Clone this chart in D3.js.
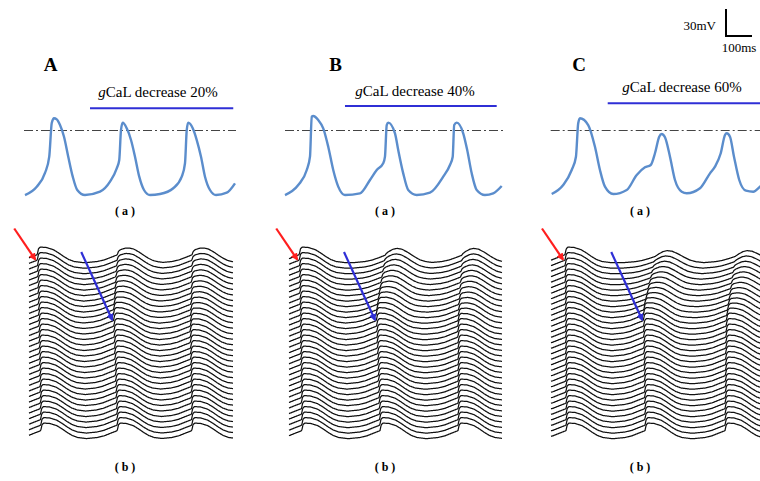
<!DOCTYPE html>
<html>
<head>
<meta charset="utf-8">
<script src="https://cdn.jsdelivr.net/npm/d3@7"></script>
<style>
  body { margin: 0; background: #fff; }
  svg { display: block; }
  text { font-family: "Liberation Serif", "Times New Roman", serif; }
</style>
</head>
<body>
<div id="chart"></div>
<script>
// ---- data ----
const panelNames = ['A', 'B', 'C']
const decreasePct = [20, 40, 60]
// gCaL block starts (ms, on the (a) time axis)
const blockStart = [260, 240, 224]

// (a) single-cell action potentials: [time ms, mV]
const apA = [[0,-71.7],[47,-62.4],[80,-47.2],[97,-29.1],[107,8.3],[116,13.6],[127,12.4],[140,6.1],[156,-6.9],[173,-29.1],[191,-51.3],[209,-66.1],[240,-71.7],[300,-68.0],[340,-56.9],[367,-42.0],[377,-32.8],[384,0.6],[391,8.7],[407,2.4],[424,-10.6],[440,-29.1],[457,-51.3],[476,-66.1],[500,-71.7],[540,-70.6],[593,-64.2],[627,-51.3],[640,-36.4],[647,0.6],[653,8.7],[671,2.4],[687,-10.6],[704,-29.1],[720,-51.3],[740,-66.1],[764,-71.7],[807,-69.1],[840,-58.7]]
const apB = [[0,-71.7],[53,-60.6],[87,-43.9],[100,-29.1],[107,15.3],[113,16.1],[133,11.7],[153,2.4],[173,-18.0],[193,-43.9],[213,-62.4],[240,-71.7],[300,-69.8],[340,-55.0],[367,-43.9],[393,-36.4],[400,-29.1],[407,6.1],[413,8.7],[440,-3.1],[453,-21.7],[473,-47.6],[493,-66.1],[527,-71.7],[580,-69.1],[633,-51.3],[660,-38.3],[671,-29.1],[677,6.1],[687,8.7],[713,-3.1],[729,-21.7],[747,-47.6],[767,-66.1],[800,-71.7],[833,-69.8],[867,-61.7]]
const apC = [[0,-70.6],[46,-60.6],[80,-43.9],[97,-29.1],[106,8.0],[113,13.6],[146,6.1],[173,-18.0],[193,-43.9],[213,-62.4],[246,-70.6],[300,-66.1],[340,-49.4],[373,-40.9],[396,-38.3],[413,-25.3],[430,-6.9],[440,-3.9],[453,-7.6],[473,-29.1],[493,-55.0],[520,-68.0],[540,-69.8],[593,-64.2],[633,-47.6],[653,-40.2],[676,-25.3],[693,-5.0],[700,-3.1],[713,-6.9],[729,-29.1],[750,-55.0],[777,-66.9],[806,-68.0],[833,-62.4],[853,-57.0]]

// (b) beat shapes seen in the stacked traces: [ms from upstroke, mV]
const sharpBeat = [[-120,-70],[-80,-64.5],[-52,-55.1],[-24,-39.6],[-4,-29],[0,-26],[5,6],[12,15],[36,13],[64,1],[86,-17.6],[106,-36.9],[126,-53.4],[148,-64.5],[180,-70]]
const roundBeat = [[-120,-70],[-80,-64.5],[-52,-56.2],[-24,-42.4],[0,-28.6],[16,-10],[32,5],[48,12],[68,8],[92,-10],[116,-33],[140,-53.4],[164,-64.5],[192,-70]]

// (b) upstroke time (ms) of each beat in each of the 33 rows, top to bottom
const onsetA1 = [33,33,34,34,35,35,36,36,37,37,38,38,39,39,40,40,40,41,41,42,42,43,43,43,44,44,45,45,45,46,46,47,47]
const onsetA2 = [353,352,350,349,347,346,344,343,341,340,338,337,338,339,339,340,341,342,342,343,344,345,345,346,347,348,348,349,350,351,351,352,353]
const onsetA3 = [652,651,651,650,650,649,649,648,648,647,647,646,646,645,644,645,645,646,646,646,647,647,647,648,648,649,649,649,650,650,650,651,651]
const onsetB1 = [41,41,42,42,42,43,43,43,44,44,44,45,45,45,46,46,46,46,47,47,47,48,48,48,49,49,49,49,50,50,50,51,51]
const onsetB2 = [384,381,378,374,371,367,364,360,357,354,351,348,349,350,351,352,352,353,354,355,355,356,357,357,358,359,360,360,361,362,362,363,364]
const onsetB3 = [691,690,689,687,686,685,683,682,681,679,678,677,676,675,675,675,676,676,676,676,676,676,676,676,676,676,676,676,676,676,676,676,676]
const onsetC1 = [56,56,56,56,56,56,57,57,57,57,57,57,57,58,58,58,58,58,58,58,59,59,59,59,59,59,59,60,60,60,60,60,60]
const onsetC2 = [416,411,407,402,398,393,388,384,379,374,371,369,369,370,370,370,371,371,371,372,372,372,373,373,373,374,374,374,375,375,375,376,376]
const onsetC3 = [736,733,730,727,724,721,718,715,712,709,706,703,701,700,700,699,699,699,698,698,698,698,697,697,697,697,697,696,696,696,696,696,696]
// row where each beat starts (red / blue arrows); rows above it show a rounder wave
const originRow = [[0, 11, 14], [0, 11, 13], [0, 11, 12]]
const roundness = [0.5, 0.85, 1]
const roundAmp = [1, 0.95, 0.8]

// scale bar
const scaleBarMv = 30
const scaleBarMs = 100

// ---- layout ----
const width = 760, height = 481
const layout = [
  { letterX: 50.5, letterY: 71, textX: 158, textY: 97, barY: 108.3, barEnd: 833,
    ax: [25, 235], aDom: 840, dash: [-4, 844], bx: [29, 233], bDom: 816, labelX: 125 },
  { letterX: 335.5, letterY: 71, textX: 415, textY: 96, barY: 106, barEnd: 847,
    ax: [285, 501.7], aDom: 867, dash: [0, 873], bx: [289, 502], bDom: 852, labelX: 385 },
  { letterX: 579, letterY: 71, textX: 682, textY: 92, barY: 103.3, barEnd: 880,
    ax: [551.7, 765], aDom: 853, dash: [-4, 840], bx: [551, 765], bDom: 856, labelX: 640 }
]
const aps = [apA, apB, apC]
const onsets = [[onsetA1, onsetA2, onsetA3], [onsetB1, onsetB2, onsetB3], [onsetC1, onsetC2, onsetC3]]
const rowCount = onsetA1.length

const svg = d3.select('#chart').append('svg')
  .attr('width', width).attr('height', height)

const defs = svg.append('defs')
;[['red', '#ff1e1e'], ['blue', '#2f2fd6']].forEach(([id, c]) => {
  defs.append('marker')
    .attr('id', 'head-' + id)
    .attr('viewBox', '0 0 10 10')
    .attr('refX', 8).attr('refY', 5)
    .attr('markerWidth', 3.4).attr('markerHeight', 3.4)
    .attr('orient', 'auto')
    .append('path').attr('d', 'M0,0 L10,5 L0,10 z').attr('fill', c)
})
defs.append('clipPath').attr('id', 'page')
  .append('rect').attr('width', width).attr('height', height)

// (a) voltage scale shared by the three panels
const yA = d3.scaleLinear().domain([0, 80]).range([130.5, 130.5 - 72])
// (b) per-row voltage scale (height above the row baseline)
const yB = d3.scaleLinear().domain([-70, 15]).range([0, -15.4])
const rowY = d3.scaleLinear().domain([0, rowCount - 1]).range([262.5, 438.5])

const sharpScale = d3.scaleLinear().domain(sharpBeat.map(d => d[0])).range(sharpBeat.map(d => d[1])).clamp(true)
const roundScale = d3.scaleLinear().domain(roundBeat.map(d => d[0])).range(roundBeat.map(d => d[1])).clamp(true)

layout.forEach((L, p) => {
  const g = svg.append('g').attr('clip-path', 'url(#page)')

  // panel letter
  g.append('text')
    .attr('x', L.letterX).attr('y', L.letterY)
    .attr('text-anchor', 'middle')
    .attr('font-size', 19).attr('font-weight', 'bold')
    .text(panelNames[p])

  // (a) time scale
  const xA = d3.scaleLinear().domain([0, L.aDom]).range(L.ax)

  // block label + bar
  const lbl = g.append('text')
    .attr('x', L.textX).attr('y', L.textY)
    .attr('text-anchor', 'middle')
    .attr('font-size', 15)
  lbl.append('tspan').attr('font-style', 'italic').text('g')
  lbl.append('tspan').text(`CaL decrease ${decreasePct[p]}%`)

  g.append('line')
    .attr('x1', xA(blockStart[p])).attr('x2', xA(L.barEnd))
    .attr('y1', L.barY).attr('y2', L.barY)
    .attr('stroke', '#2f2fd6').attr('stroke-width', 2)

  // 0 mV dash-dot line
  g.append('line')
    .attr('x1', xA(L.dash[0])).attr('x2', xA(L.dash[1]))
    .attr('y1', yA(0)).attr('y2', yA(0))
    .attr('stroke', '#444').attr('stroke-width', 1)
    .attr('stroke-dasharray', '9,3,2,3')

  // action potential
  g.append('path')
    .datum(aps[p])
    .attr('fill', 'none')
    .attr('stroke', '#5b8dcc')
    .attr('stroke-width', 2.4)
    .attr('stroke-linejoin', 'round')
    .attr('d', d3.line().x(d => xA(d[0])).y(d => yA(d[1])).curve(d3.curveMonotoneX))

  g.append('text')
    .attr('x', L.labelX).attr('y', 215)
    .attr('text-anchor', 'middle')
    .attr('font-size', 12).attr('font-weight', 'bold')
    .text('( a )')

  // (b) stacked traces
  const xB = d3.scaleLinear().domain([0, L.bDom]).range(L.bx)
  const times = d3.range(0, L.bDom + 1, 2)
  const rows = d3.range(rowCount).map(r => {
    const beats = onsets[p].map((arr, k) => {
      const o = originRow[p][k]
      const w = r < o ? roundness[p] * (o - r) / o : 0
      return { on: arr[r], w }
    })
    return times.map(t => {
      let v = -70
      beats.forEach(b => {
        const dt = t - b.on
        const s = sharpScale(dt)
        const rd = -70 + roundAmp[p] * (roundScale(dt) + 70)
        v = Math.max(v, (1 - b.w) * s + b.w * rd)
      })
      return [t, v, r]
    })
  })

  const lineB = d3.line()
    .x(d => xB(d[0]))
    .y(d => rowY(d[2]) + yB(d[1]))

  g.append('g').selectAll('path')
    .data(rows)
    .join('path')
    .attr('fill', 'none')
    .attr('stroke', '#111')
    .attr('stroke-width', 1.25)
    .attr('d', lineB)

  // red arrow: first beat starts at the top row
  const redTip = [xB(onsets[p][0][0]) - 2, rowY(0) - 3]
  g.append('line')
    .attr('x1', redTip[0] - 21).attr('y1', redTip[1] - 31)
    .attr('x2', redTip[0]).attr('y2', redTip[1])
    .attr('stroke', '#ff1e1e').attr('stroke-width', 2.2)
    .attr('marker-end', 'url(#head-red)')

  // blue arrow: where the second beat starts
  const o2 = originRow[p][1]
  const blueTip = [xB(onsets[p][1][o2]) - 1, rowY(o2) - 3]
  g.append('line')
    .attr('x1', blueTip[0] - 31).attr('y1', blueTip[1] - 68)
    .attr('x2', blueTip[0]).attr('y2', blueTip[1])
    .attr('stroke', '#2f2fd6').attr('stroke-width', 2.2)
    .attr('marker-end', 'url(#head-blue)')

  g.append('text')
    .attr('x', L.labelX).attr('y', 471)
    .attr('text-anchor', 'middle')
    .attr('font-size', 12).attr('font-weight', 'bold')
    .text('( b )')
})

// scale bar (30 mV, 100 ms)
const sbX = 726, sbY = 36
const msPx = d3.scaleLinear().domain([0, scaleBarMs]).range([0, 26])
const mvPx = d3.scaleLinear().domain([0, scaleBarMv]).range([0, 27])
svg.append('path')
  .attr('d', `M${sbX},${sbY - mvPx(scaleBarMv)} L${sbX},${sbY} L${sbX + msPx(scaleBarMs)},${sbY}`)
  .attr('fill', 'none').attr('stroke', '#000').attr('stroke-width', 2)
svg.append('text')
  .attr('x', 716).attr('y', 30)
  .attr('text-anchor', 'end').attr('font-size', 13)
  .text(`${scaleBarMv}mV`)
svg.append('text')
  .attr('x', 739).attr('y', 52)
  .attr('text-anchor', 'middle').attr('font-size', 13)
  .text(`${scaleBarMs}ms`)
</script>
</body>
</html>
